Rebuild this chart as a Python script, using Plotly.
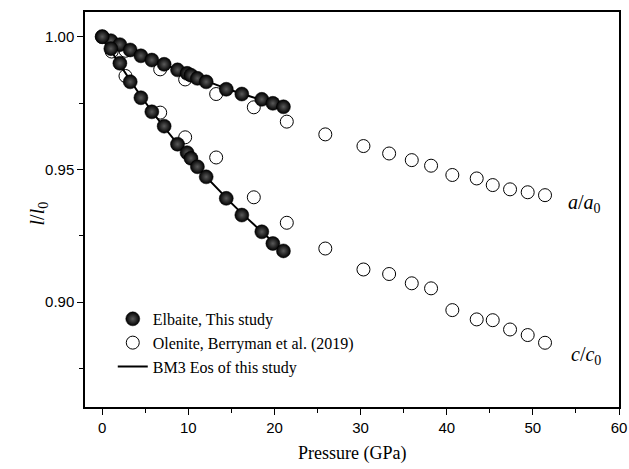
import plotly.graph_objects as go

# Elbaite, this study
p_this = [0, 1.0, 2.05, 3.25, 4.49, 5.76, 7.19, 8.74, 9.85, 10.3, 11.05, 12.07, 14.4, 16.21, 18.53, 19.81, 21.04]
a_this = [1.000, 0.9985, 0.9970, 0.9950, 0.9928, 0.9912, 0.9896, 0.9875, 0.9862, 0.9855, 0.9843, 0.9830, 0.9802, 0.9784, 0.9764, 0.9749, 0.9736]
c_this = [1.000, 0.9955, 0.9900, 0.9830, 0.9770, 0.9717, 0.9663, 0.9595, 0.9563, 0.9542, 0.9510, 0.9472, 0.9391, 0.9328, 0.9265, 0.9221, 0.9193]

# Olenite, Berryman et al. (2019)
p_ber = [1.1, 2.7, 6.73, 9.63, 13.23, 17.6, 21.43, 25.9, 30.33, 33.31, 35.94, 38.18, 40.65, 43.48, 45.34, 47.35, 49.4, 51.41]
a_ber = [0.9981, 0.9947, 0.9877, 0.9839, 0.9784, 0.9734, 0.9680, 0.9632, 0.9588, 0.9560, 0.9535, 0.9514, 0.9479, 0.9466, 0.9441, 0.9425, 0.9414, 0.9403]
c_ber = [0.9944, 0.9852, 0.9714, 0.9621, 0.9545, 0.9395, 0.9299, 0.9202, 0.9123, 0.9106, 0.9071, 0.9052, 0.8970, 0.8935, 0.8932, 0.8897, 0.8876, 0.8847]

# BM3 EoS fit curves
p_fit = [0, 5, 10, 15, 21.1]
a_fit = [1.000, 0.9925, 0.9860, 0.9798, 0.9736]
c_fit = [1.000, 0.9753, 0.9548, 0.9373, 0.9190]

serif = "Liberation Serif"
sans = "Liberation Sans"

fig = go.Figure()

open_marker = dict(symbol="circle", size=13, color="white", line=dict(color="black", width=1))
fig.add_trace(go.Scatter(x=p_ber, y=a_ber, mode="markers", marker=open_marker,
                         name="Olenite, Berryman et al. (2019)", legendgroup="ber", legendrank=2))
fig.add_trace(go.Scatter(x=p_ber, y=c_ber, mode="markers", marker=open_marker,
                         name="Olenite, Berryman et al. (2019)", legendgroup="ber", showlegend=False))

line_style = dict(color="black", width=2, shape="spline")
fig.add_trace(go.Scatter(x=p_fit, y=a_fit, mode="lines", line=line_style,
                         name="BM3 Eos of this study", legendgroup="fit", legendrank=3))
fig.add_trace(go.Scatter(x=p_fit, y=c_fit, mode="lines", line=line_style,
                         name="BM3 Eos of this study", legendgroup="fit", showlegend=False))

sphere = dict(symbol="circle", size=14, color="black",
              gradient=dict(type="radial", color="#5a5a5a"),
              line=dict(color="black", width=0.5))
fig.add_trace(go.Scatter(x=p_this, y=a_this, mode="markers", marker=sphere,
                         name="Elbaite, This study", legendgroup="this", legendrank=1))
fig.add_trace(go.Scatter(x=p_this, y=c_this, mode="markers", marker=sphere,
                         name="Elbaite, This study", legendgroup="this", showlegend=False))

fig.add_annotation(x=1.0, xref="paper", xanchor="right", y=0.9372, yref="y", yanchor="middle",
                   text="<i>a</i>/<i>a</i><sub>0</sub>", showarrow=False, xshift=-16,
                   font=dict(family=serif, size=20, color="black"))
fig.add_annotation(x=1.0, xref="paper", xanchor="right", y=0.8800, yref="y", yanchor="middle",
                   text="<i>c</i>/<i>c</i><sub>0</sub>", showarrow=False, xshift=-16,
                   font=dict(family=serif, size=20, color="black"))

# axis titles
fig.add_annotation(x=0.5, xref="paper", y=0, yref="paper", xanchor="center", yanchor="middle",
                   yshift=-46, text="Pressure (GPa)", showarrow=False,
                   font=dict(family=serif, size=18, color="black"))
fig.add_annotation(x=0, xref="paper", y=0.49, yref="paper", xanchor="center", yanchor="middle",
                   xshift=-47, textangle=-90, text="<i>l</i>/<i>l</i><sub>0</sub>", showarrow=False,
                   font=dict(family=serif, size=20, color="black"))

fig.update_layout(
    width=629, height=469,
    margin=dict(l=85, r=10, t=12, b=62),
    plot_bgcolor="white", paper_bgcolor="white",
    showlegend=True,
    legend=dict(x=0.052, y=0.266, xanchor="left", yanchor="top",
                font=dict(family=serif, size=16, color="black"),
                bgcolor="rgba(0,0,0,0)", tracegroupgap=0, itemwidth=30),
    xaxis=dict(range=[-2, 60], tickvals=[0, 10, 20, 30, 40, 50, 60], automargin=False,
               ticks="outside", ticklen=6, tickwidth=1.2, tickcolor="black",
               minor=dict(tickvals=[5, 15, 25, 35, 45, 55], ticks="outside", ticklen=4, tickwidth=1.2, tickcolor="black"),
               showline=True, linecolor="black", linewidth=1.5, mirror=True,
               showgrid=False, zeroline=False,
               tickfont=dict(family=sans, size=15, color="black")),
    yaxis=dict(range=[0.8605, 1.0093], tickvals=[0.90, 0.95, 1.00], ticktext=["0.90", "0.95", "1.00"], automargin=False,
               ticks="outside", ticklen=6, tickwidth=1.2, tickcolor="black",
               minor=dict(tickvals=[0.875, 0.925, 0.975], ticks="outside", ticklen=4, tickwidth=1.2, tickcolor="black"),
               showline=True, linecolor="black", linewidth=1.5, mirror=True,
               showgrid=False, zeroline=False,
               tickfont=dict(family=sans, size=15, color="black")),
)

fig.write_html("out.html", config={"displayModeBar": False},
               post_script="document.body.style.margin='0';document.body.style.padding='0';document.body.style.overflow='hidden';")
